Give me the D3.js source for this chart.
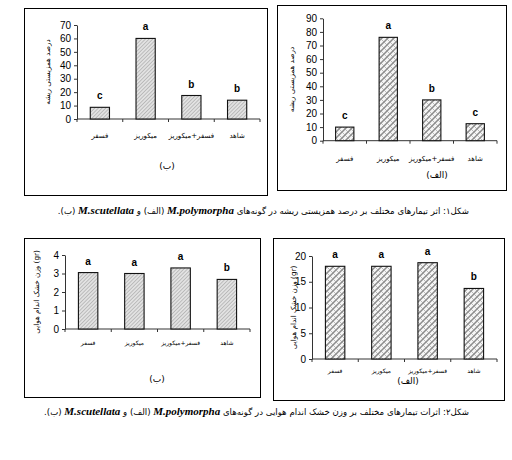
<!DOCTYPE html>
<html>
<head>
<meta charset="utf-8">
<script src="https://cdn.jsdelivr.net/npm/d3@7"></script>
<style>
  body { margin: 0; background: #fff; position: relative; width: 512px; height: 460px; overflow: hidden; }
  svg { display: block; }
  text { font-family: "Liberation Sans", Arial, sans-serif; fill: #000; }
  .fa { font-family: "DejaVu Sans", sans-serif; }
  .caption { position: absolute; left: 48px; width: 421px; white-space: nowrap; direction: rtl; text-align: right;
             font-family: "DejaVu Sans", sans-serif; font-size: 8.6px; color: #000; line-height: 12px; }
  .caption i { font-family: "Liberation Serif", serif; font-weight: bold; font-size: 11px; }
</style>
</head>
<body>
<script>
var w = 512,
    h = 460;

// treatments (same order in every panel)
var categories = ["فسفر", "میکوریز", "فسفر+میکوریز", "شاهد"];

// fig 1: root colonization (%)
var rootPolymorpha = [10, 76, 30, 12.5];
var rootPolymorphaLetters = ["c", "a", "b", "c"];
var rootScutellata = [8.7, 60, 17.5, 14];
var rootScutellataLetters = ["c", "a", "b", "b"];
var rootPolyTicks = [0, 10, 20, 30, 40, 50, 60, 70, 80, 90];
var rootScutTicks = [0, 10, 20, 30, 40, 50, 60, 70];

// fig 2: shoot dry weight (gr)
var shootPolymorpha = [18, 18, 18.7, 13.7];
var shootPolymorphaLetters = ["a", "a", "a", "b"];
var shootScutellata = [3.05, 3.0, 3.3, 2.68];
var shootScutellataLetters = ["a", "a", "a", "b"];
var shootPolyTicks = [0, 5, 10, 15, 20];
var shootScutTicks = [0, 1, 2, 3, 4];

var rootLabel = "درصد همزیستی ریشه";
var shootLabel = "وزن خشک اندام هوایی (gr)";

var svg = d3.select("body").append("svg")
    .attr("width", w)
    .attr("height", h);

var defs = svg.append("defs");

// fine diagonal hatch for the (ب) panels
var hatch = defs.append("pattern")
    .attr("id", "hatch")
    .attr("patternUnits", "userSpaceOnUse")
    .attr("width", 2.6).attr("height", 2.6)
    .attr("patternTransform", "rotate(45)");
hatch.append("rect").attr("width", 2.6).attr("height", 2.6).attr("fill", "#e2e2e2");
hatch.append("line").attr("x1", 0).attr("y1", 0).attr("x2", 0).attr("y2", 2.6)
    .attr("stroke", "#8f8f8f").attr("stroke-width", 0.9);

// cross hatch for the (الف) panels
var cross = defs.append("pattern")
    .attr("id", "cross")
    .attr("patternUnits", "userSpaceOnUse")
    .attr("width", 6).attr("height", 6);
cross.append("rect").attr("width", 6).attr("height", 6).attr("fill", "#f6f6f6");
cross.append("path").attr("d", "M-1,7 L7,-1 M-1,1 L1,-1 M5,7 L7,5")
    .attr("stroke", "#8c8c8c").attr("stroke-width", 1.5);
cross.append("path").attr("d", "M0,0 L6,6")
    .attr("stroke", "#a0a0a0").attr("stroke-width", 0.7);

var panels = [
  { box: [24, 8, 267, 195], x0: 77, x1: 260, y0: 119, y1: 25, ticks: rootScutTicks,
    values: rootScutellata, letters: rootScutellataLetters, fill: "url(#hatch)",
    ylabel: rootLabel, ylx: 48, catY: 138, tag: "(ب)", tagX: 167, tagY: 169, catSize: 7 },
  { box: [277, 5, 506, 190], x0: 323, x1: 497, y0: 140.7, y1: 18.3, ticks: rootPolyTicks,
    values: rootPolymorpha, letters: rootPolymorphaLetters, fill: "url(#cross)",
    ylabel: rootLabel, ylx: 292, catY: 161, tag: "(الف)", tagX: 437, tagY: 178, catSize: 7 },
  { box: [24, 238, 260, 397], x0: 65, x1: 250, y0: 329, y1: 255, ticks: shootScutTicks,
    values: shootScutellata, letters: shootScutellataLetters, fill: "url(#hatch)",
    ylabel: shootLabel, ylx: 37, catY: 345, tag: "(ب)", tagX: 157, tagY: 382, catSize: 6 },
  { box: [273, 238, 504, 400], x0: 312, x1: 497, y0: 359, y1: 256, ticks: shootPolyTicks,
    values: shootPolymorpha, letters: shootPolymorphaLetters, fill: "url(#cross)",
    ylabel: shootLabel, ylx: 294, catY: 373, tag: "(الف)", tagX: 408, tagY: 384, catSize: 6 }
];

panels.forEach(function(p) {
  var g = svg.append("g");

  g.append("rect")
      .attr("x", p.box[0] + 0.5).attr("y", p.box[1] + 0.5)
      .attr("width", p.box[2] - p.box[0]).attr("height", p.box[3] - p.box[1])
      .attr("fill", "none").attr("stroke", "#000").attr("stroke-width", 1);

  var x = d3.scaleBand()
      .domain(categories)
      .range([p.x0, p.x1])
      .paddingInner(0.58)
      .paddingOuter(0.29);

  var y = d3.scaleLinear()
      .domain([0, p.ticks[p.ticks.length - 1]])
      .range([p.y0, p.y1]);

  // y axis
  var ya = g.append("g")
      .attr("transform", "translate(" + p.x0 + ",0)")
      .call(d3.axisLeft(y).tickValues(p.ticks).tickFormat(d3.format("d"))
        .tickSize(3).tickSizeOuter(0).tickPadding(3));
  ya.selectAll("text").attr("font-size", 10)
      .attr("font-family", "Liberation Sans, Arial, sans-serif").attr("fill", "#000");
  ya.selectAll("line, path").attr("stroke", "#333");

  // x axis with ticks at the band edges
  g.append("line")
      .attr("x1", p.x0).attr("x2", p.x1)
      .attr("y1", p.y0).attr("y2", p.y0)
      .attr("stroke", "#333");
  g.selectAll(".xt")
      .data(d3.range(categories.length + 1))
    .enter().append("line")
      .attr("x1", function(i) { return p.x0 + i * x.step(); })
      .attr("x2", function(i) { return p.x0 + i * x.step(); })
      .attr("y1", p.y0).attr("y2", p.y0 + 3)
      .attr("stroke", "#333");

  // bars
  g.selectAll(".bar")
      .data(p.values)
    .enter().append("rect")
      .attr("x", function(d, i) { return x(categories[i]); })
      .attr("y", function(d) { return y(d); })
      .attr("width", x.bandwidth())
      .attr("height", function(d) { return p.y0 - y(d); })
      .attr("fill", p.fill)
      .attr("stroke", "#111")
      .attr("stroke-width", 1.1);

  // significance letters
  g.selectAll(".letter")
      .data(p.values)
    .enter().append("text")
      .attr("x", function(d, i) { return x(categories[i]) + x.bandwidth() / 2; })
      .attr("y", function(d) { return y(d) - 8; })
      .attr("text-anchor", "middle")
      .attr("font-size", 10)
      .attr("font-weight", "bold")
      .text(function(d, i) { return p.letters[i]; });

  // category labels
  g.selectAll(".cat")
      .data(categories)
    .enter().append("text")
      .attr("class", "fa")
      .attr("x", function(d) { return x(d) + x.bandwidth() / 2; })
      .attr("y", p.catY)
      .attr("text-anchor", "middle")
      .attr("font-size", p.catSize)
      .text(function(d) { return d; });

  // y label
  g.append("text")
      .attr("class", "fa")
      .attr("transform", "translate(" + p.ylx + "," + ((p.y0 + p.y1) / 2) + ") rotate(-90)")
      .attr("text-anchor", "middle")
      .attr("dominant-baseline", "middle")
      .attr("font-size", 7.2)
      .text(p.ylabel);

  // panel tag
  g.append("text")
      .attr("class", "fa")
      .attr("x", p.tagX).attr("y", p.tagY)
      .attr("text-anchor", "middle")
      .attr("font-size", 9)
      .text(p.tag);
});

// captions (rtl html, with latin species names)
var captions = [
  { top: 204, parts: ["شکل۱: اثر تیمارهای مختلف بر درصد همزیستی ریشه در گونه‌های ", "M.polymorpha", " (الف) و ", "M.scutellata", " (ب)."] },
  { top: 405, parts: ["شکل۲: اثرات تیمارهای مختلف بر وزن خشک اندام هوایی در گونه‌های ", "M.polymorpha", " (الف) و ", "M.scutellata", " (ب)."] }
];

captions.forEach(function(c) {
  var div = d3.select("body").append("div")
      .attr("class", "caption")
      .attr("dir", "rtl")
      .style("top", c.top + "px");
  c.parts.forEach(function(s, i) {
    if (i % 2 == 1) div.append("i").attr("dir", "ltr").text(s);
    else div.append("span").text(s);
  });
});
</script>
</body>
</html>
